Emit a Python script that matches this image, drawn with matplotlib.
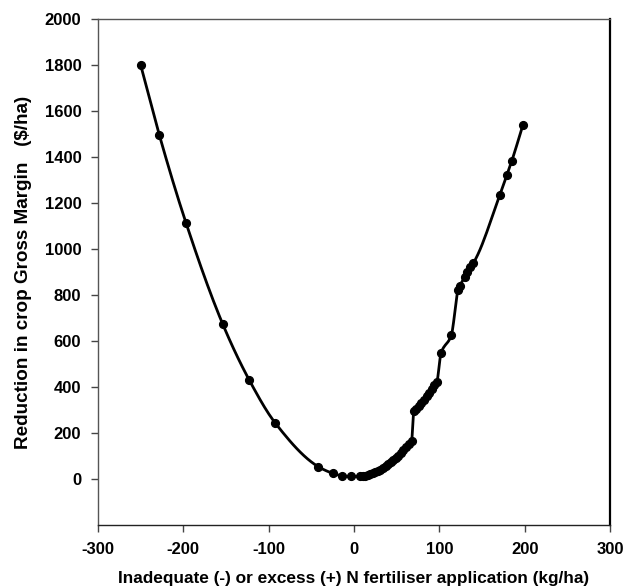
import numpy as np
import matplotlib
matplotlib.use("Agg")
import matplotlib.pyplot as plt

plt.rcParams['font.family'] = ['Liberation Sans', 'DejaVu Sans']
plt.rcParams['font.weight'] = 'bold'
plt.rcParams['axes.unicode_minus'] = False

# N application deviation (kg/ha) and reduction in gross margin ($/ha)
n_deviation = [
    -250, -228, -197, -154, -123, -92, -42, -25, -14, -3,
    7, 10, 13, 16, 19, 22, 25, 28, 31, 34, 37, 40, 43, 46, 49, 52,
    55, 58, 61, 64, 67.5,
    70, 73, 76, 79, 82, 85, 88, 91, 94, 97,
    102, 114, 122, 124, 130, 133, 136, 140,
    171, 179, 185, 198,
]
gm_reduction = [
    1800, 1494, 1115, 675, 432, 242, 54, 25, 14, 11,
    12, 13, 14, 17, 20, 24, 29, 35, 41, 48, 56, 64, 73, 82, 92, 102,
    113, 125, 138, 151, 166,
    294, 305, 318, 330, 345, 360, 375, 392, 408, 422,
    547, 625, 822, 840, 880, 900, 920, 940,
    1236, 1320, 1384, 1540,
]

x_ticks = [-300, -200, -100, 0, 100, 200, 300]
y_ticks = [0, 200, 400, 600, 800, 1000, 1200, 1400, 1600, 1800, 2000]


def pchip(x, y, n_per=12):
    """Shape-preserving cubic through the points (no overshoot)."""
    x = np.asarray(x, float)
    y = np.asarray(y, float)
    h = np.diff(x)
    d = np.diff(y) / h
    m = np.zeros_like(y)
    for k in range(1, len(x) - 1):
        if d[k - 1] * d[k] > 0:
            w1 = 2 * h[k] + h[k - 1]
            w2 = h[k] + 2 * h[k - 1]
            m[k] = (w1 + w2) / (w1 / d[k - 1] + w2 / d[k])
    m[0] = d[0]
    m[-1] = d[-1]
    xs, ys = [], []
    for k in range(len(h)):
        t = np.linspace(0, 1, n_per, endpoint=False)
        h00 = 2 * t**3 - 3 * t**2 + 1
        h10 = t**3 - 2 * t**2 + t
        h01 = -2 * t**3 + 3 * t**2
        h11 = t**3 - t**2
        xs.append(x[k] + t * h[k])
        ys.append(h00 * y[k] + h10 * h[k] * m[k] + h01 * y[k + 1] + h11 * h[k] * m[k + 1])
    xs.append([x[-1]])
    ys.append([y[-1]])
    return np.concatenate(xs), np.concatenate(ys)


fig = plt.figure(figsize=(6.27, 5.87), dpi=100)
ax = fig.add_axes([0.1563, 0.1056, 0.8166, 0.862])

cx, cy = pchip(n_deviation, gm_reduction)
ax.plot(cx, cy, color='black', linewidth=2.0, solid_capstyle='round', zorder=2)
ax.plot(n_deviation, gm_reduction, linestyle='none', marker='o',
        markersize=5.6, color='black', zorder=3)

ax.set_xlim(-300, 300)
ax.set_ylim(-200, 2000)
ax.set_xticks(x_ticks)
ax.set_yticks(y_ticks)
ax.tick_params(axis='both', direction='out', length=5, width=1,
               labelsize=12, color='#444444')
ax.tick_params(axis='y', pad=7)
ax.tick_params(axis='x', pad=7)
for lab in ax.get_xticklabels() + ax.get_yticklabels():
    lab.set_fontweight('bold')

for side in ['left', 'top']:
    ax.spines[side].set_color('#555555')
    ax.spines[side].set_linewidth(1.0)
ax.spines['bottom'].set_color('#222222')
ax.spines['bottom'].set_linewidth(1.0)
ax.spines['right'].set_color('black')
ax.spines['right'].set_linewidth(1.6)

ax.set_xlabel('Inadequate (-) or excess (+) N fertiliser application (kg/ha)',
              fontsize=12.4, fontweight='bold', labelpad=10)
ax.set_ylabel('Reduction in crop Gross Margin   ($/ha)',
              fontsize=13.6, fontweight='bold', labelpad=9)

fig.savefig('out.png', dpi=100)
